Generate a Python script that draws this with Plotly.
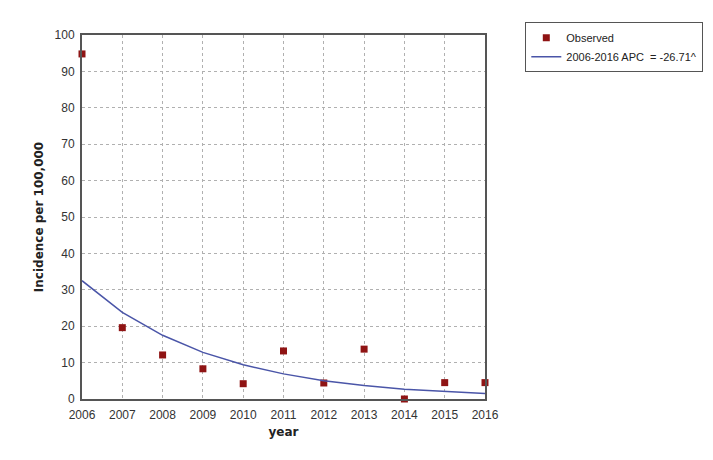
import plotly.graph_objects as go

years = [2006, 2007, 2008, 2009, 2010, 2011, 2012, 2013, 2014, 2015, 2016]
observed = [94.8, 19.6, 12.1, 8.3, 4.2, 13.2, 4.4, 13.7, 0.0, 4.5, 4.5]
modeled = [32.5, 23.8, 17.5, 12.8, 9.4, 6.9, 5.0, 3.7, 2.7, 2.0, 1.5]

fig = go.Figure()
fig.add_trace(go.Scatter(
    x=years, y=observed, mode="markers", name="Observed",
    marker=dict(symbol="square", size=7, color="#8f1414"),
    cliponaxis=False,
))
fig.add_trace(go.Scatter(
    x=years, y=modeled, mode="lines", name="2006-2016 APC  = -26.71^",
    line=dict(color="#4a55a8", width=1.5),
))

axis_common = dict(
    showline=True, linecolor="#555555", linewidth=2, mirror=True,
    showgrid=True, gridcolor="#b0b0b0", griddash="dot", gridwidth=1,
    ticks="", zeroline=False,
    tickfont=dict(family="Liberation Sans, Arial", size=12, color="#333333"),
)

# page body adds ~8px offset, margins compensate
fig.update_layout(
    width=713, height=460,
    margin=dict(l=74, r=236, t=27, b=69),
    plot_bgcolor="white", paper_bgcolor="white",
    xaxis=dict(range=[2006, 2016], dtick=1, ticklabelstandoff=4,
               title=dict(text="<b>year</b>", standoff=6,
                          font=dict(family="DejaVu Sans, Verdana", size=12, color="#222222")),
               **axis_common),
    yaxis=dict(range=[0, 100], dtick=10, ticklabelstandoff=3,
               title=dict(text="<b>Incidence per 100,000</b>", standoff=8,
                          font=dict(family="DejaVu Sans, Verdana", size=12, color="#222222")),
               **axis_common),
    legend=dict(x=1.1, y=1.035, xanchor="left", yanchor="top",
                bordercolor="#555555", borderwidth=1, bgcolor="white",
                font=dict(family="Liberation Sans, Arial", size=11, color="#222222"),
                tracegroupgap=0, itemwidth=30),
    showlegend=True,
)

fig.write_html("out.html")
